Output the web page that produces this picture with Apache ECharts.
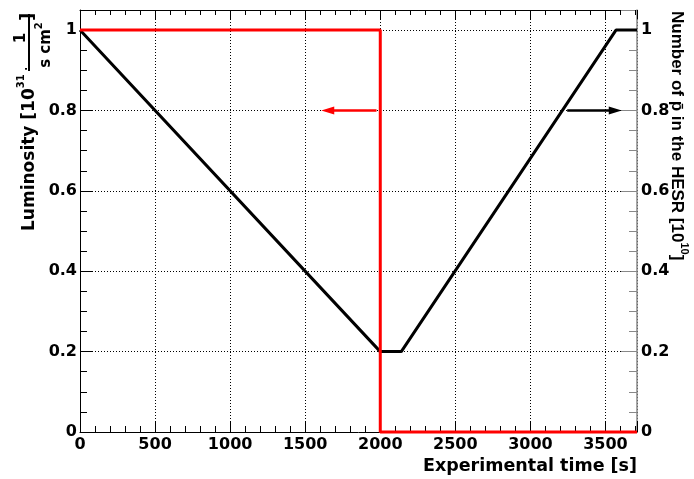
<!DOCTYPE html>
<html>
<head>
<meta charset="utf-8">
<script src="https://cdn.jsdelivr.net/npm/echarts@6/dist/echarts.min.js"></script>
<style>
  html, body { margin: 0; padding: 0; background: #fff; }
  #main { width: 694px; height: 479px; }
</style>
</head>
<body>
<div id="main"></div>
<script>
// ********
// * Data *
// ********

// Number of antiprotons in the HESR [1e10] vs time
const timeAntiprotons = [0, 2000, 2140, 3570, 3710];
const antiprotons = [1, 0.2, 0.2, 1, 1];

// Luminosity [1e31 / (s cm^2)] vs time
const timeLuminosity = [0, 2000, 2000, 3710];
const luminosity = [1, 1, 0, 0];

// Arrows telling which axis belongs to which curve: [start, end]
const arrowLuminosity = [[1975, 0.8], [1650, 0.8]];
const arrowAntiprotons = [[3245, 0.8], [3565, 0.8]];

const xMax = 3710;
const yMax = 1.05;

// ************
// * Settings *
// ************
const tickFont = "DejaVu Sans";
const titleFont = "Liberation Sans";

const chart = echarts.init(document.getElementById("main"), null, { renderer: "canvas" });

const labelStyle = {
  fontFamily: tickFont,
  fontWeight: "bold",
  fontSize: 16,
  color: "#000",
};

const gridLine = { color: "#000", type: [1, 2], width: 1 };

function toPairs(xs, ys) {
  return xs.map((x, i) => [x, ys[i]]);
}

function arrowLine(points) {
  return [{ coord: points[0] }, { coord: points[1] }];
}

// Plain numbers, no thousands separator
function plainNumber(value) {
  return String(Math.round(value * 1000) / 1000);
}

const option = {
  animation: false,
  backgroundColor: "#fff",
  grid: { left: 80, right: 57, top: 10, bottom: 47, containLabel: false, outerBoundsMode: "none" },
  xAxis: [
    {
      type: "value",
      position: "bottom",
      min: 0,
      max: xMax,
      interval: 500,
      axisLine: { onZero: false, lineStyle: { color: "#000", width: 1 } },
      axisTick: { inside: true, length: 11, lineStyle: { color: "#000" } },
      minorTick: { show: true, splitNumber: 5, length: 6, lineStyle: { color: "#000" } },
      splitLine: { show: true, lineStyle: gridLine },
      axisLabel: { ...labelStyle, margin: 5, showMaxLabel: false, formatter: plainNumber },
    },
    {
      type: "value",
      position: "top",
      min: 0,
      max: xMax,
      interval: 500,
      axisLine: { onZero: false, lineStyle: { color: "#000", width: 1 } },
      axisTick: { inside: true, length: 9, lineStyle: { color: "#000" } },
      minorTick: { show: true, splitNumber: 5, length: 5, lineStyle: { color: "#000" } },
      splitLine: { show: false },
      axisLabel: { show: false },
    },
  ],
  yAxis: [
    {
      type: "value",
      position: "left",
      min: 0,
      max: yMax,
      interval: 0.2,
      axisLine: { show: true, onZero: false, lineStyle: { color: "#000", width: 1 } },
      axisTick: { show: true, inside: true, length: 12, lineStyle: { color: "#000" } },
      minorTick: { show: true, splitNumber: 4, length: 7, lineStyle: { color: "#000" } },
      splitLine: { show: true, lineStyle: gridLine },
      axisLabel: { ...labelStyle, margin: 3, showMaxLabel: false, formatter: plainNumber },
    },
    {
      type: "value",
      position: "right",
      min: 0,
      max: yMax,
      interval: 0.2,
      axisLine: { show: true, onZero: false, lineStyle: { color: "#888", width: 1.5 } },
      axisTick: { show: true, inside: true, length: 16, lineStyle: { color: "#888" } },
      minorTick: { show: true, splitNumber: 4, length: 8, lineStyle: { color: "#888" } },
      splitLine: { show: false },
      axisLabel: { ...labelStyle, margin: 4, showMaxLabel: false, formatter: plainNumber },
    },
  ],
  series: [
    {
      name: "Antiprotons",
      type: "line",
      xAxisIndex: 0,
      yAxisIndex: 1,
      data: toPairs(timeAntiprotons, antiprotons),
      showSymbol: false,
      clip: false,
      z: 3,
      lineStyle: { color: "#000", width: 3 },
      markLine: {
        silent: true,
        symbol: ["none", "triangle"],
        symbolSize: [8, 13],
        label: { show: false },
        lineStyle: { color: "#000", width: 2.5, type: "solid" },
        data: [arrowLine(arrowAntiprotons)],
      },
    },
    {
      name: "Luminosity",
      type: "line",
      xAxisIndex: 0,
      yAxisIndex: 0,
      data: toPairs(timeLuminosity, luminosity),
      showSymbol: false,
      clip: false,
      z: 4,
      lineStyle: { color: "#ff0000", width: 3 },
      markLine: {
        silent: true,
        symbol: ["none", "triangle"],
        symbolSize: [8, 13],
        label: { show: false },
        lineStyle: { color: "#ff0000", width: 2.5, type: "solid" },
        data: [arrowLine(arrowLuminosity)],
      },
    },
  ],
  graphic: [
    // X axis title
    {
      type: "text",
      x: 637,
      y: 466,
      style: {
        text: "Experimental time [s]",
        align: "right",
        verticalAlign: "middle",
        fontFamily: tickFont,
        fontWeight: "bold",
        fontSize: 17.5,
        fill: "#000",
      },
    },
    // Left title: Luminosity [10^31 · 1/(s cm^2)]
    {
      type: "text",
      x: 27,
      y: 231,
      rotation: Math.PI / 2,
      style: {
        text: "{n|Luminosity [10}{s|31}{d| ·}",
        align: "left",
        verticalAlign: "middle",
        fill: "#000",
        rich: {
          n: { fontFamily: tickFont, fontWeight: "bold", fontSize: 17, lineHeight: 22, verticalAlign: "bottom" },
          s: { fontFamily: tickFont, fontWeight: "bold", fontSize: 10, lineHeight: 22, verticalAlign: "top" },
          d: { fontFamily: tickFont, fontWeight: "bold", fontSize: 10, lineHeight: 22, verticalAlign: "middle" },
        },
      },
    },
    {
      type: "text",
      x: 21,
      y: 38,
      rotation: Math.PI / 2,
      style: {
        text: "1",
        align: "center",
        verticalAlign: "middle",
        fontFamily: tickFont,
        fontWeight: "bold",
        fontSize: 15,
        fill: "#000",
      },
    },
    {
      type: "line",
      shape: { x1: 29, y1: 14, x2: 29, y2: 71 },
      style: { stroke: "#000", lineWidth: 2 },
    },
    {
      type: "text",
      x: 44,
      y: 45,
      rotation: Math.PI / 2,
      style: {
        text: "{n|s cm}{s|2}",
        align: "center",
        verticalAlign: "middle",
        fill: "#000",
        rich: {
          n: { fontFamily: tickFont, fontWeight: "bold", fontSize: 15, lineHeight: 20, verticalAlign: "bottom" },
          s: { fontFamily: tickFont, fontWeight: "bold", fontSize: 10, lineHeight: 20, verticalAlign: "top" },
        },
      },
    },
    {
      type: "text",
      x: 28,
      y: 17,
      rotation: Math.PI / 2,
      style: {
        text: "]",
        align: "center",
        verticalAlign: "middle",
        fontFamily: tickFont,
        fontWeight: "bold",
        fontSize: 18,
        fill: "#000",
      },
    },
    // Right title: Number of p-bar in the HESR [10^10]
    {
      type: "text",
      x: 679,
      y: 11,
      rotation: -Math.PI / 2,
      style: {
        text: "{n|Number of p\u0304 in the HESR [10}{s|10}{n|]}",
        align: "left",
        verticalAlign: "middle",
        fill: "#000",
        rich: {
          n: { fontFamily: titleFont, fontWeight: "bold", fontSize: 17, lineHeight: 22, verticalAlign: "bottom" },
          s: { fontFamily: titleFont, fontWeight: "bold", fontSize: 11, lineHeight: 22, verticalAlign: "top" },
        },
      },
    },
  ],
};

chart.setOption(option);

addEventListener("resize", () => {
  chart.resize();
});
</script>
</body>
</html>
